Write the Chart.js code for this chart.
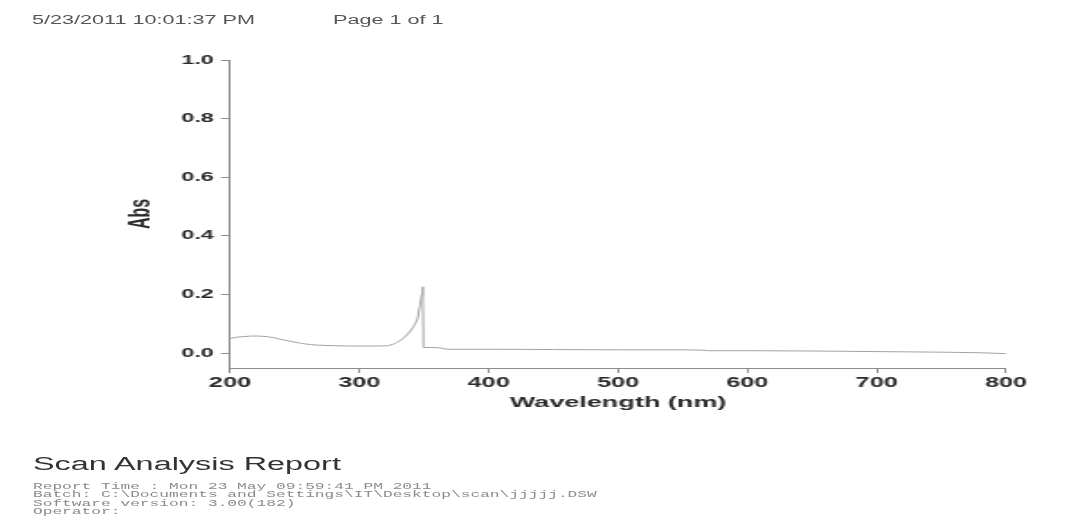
<!DOCTYPE html>
<html>
<head>
<meta charset="utf-8">
<script src="https://cdn.jsdelivr.net/npm/chart.js@4.4.1/dist/chart.umd.min.js"></script>
<style>
  html, body { margin: 0; padding: 0; background: #fff; overflow: hidden; }
  /* the scanned page is stretched sideways, so everything is drawn narrow and widened */
  #page { position: absolute; left: 0; top: 0; width: 597px; height: 517px; transform: scaleX(1.8); transform-origin: 0 0; }
  #chartBox { position: absolute; left: 0; top: 0; width: 597px; height: 517px; }
  .hdr { position: absolute; top: 13.5px; font: 12px/1 "Liberation Sans", Arial, sans-serif; color: #555; white-space: nowrap; }
  #title { position: absolute; left: 18.3px; top: 455px; font: 18px/1 "Liberation Sans", Arial, sans-serif; color: #333; white-space: nowrap; }
  #info { position: absolute; left: 18.3px; top: 482.7px; font: 9px/8.5px "Liberation Mono", "Courier New", monospace; color: #8a8a8a; white-space: pre; }
</style>
</head>
<body>
<div id="page">
  <div class="hdr" style="left:17.8px">5/23/2011 10:01:37 PM</div>
  <div class="hdr" style="left:185px">Page 1 of 1</div>
  <div id="chartBox"><canvas id="scanChart"></canvas></div>
  <div id="title">Scan Analysis Report</div>
  <div id="info">Report Time : Mon 23 May 09:59:41 PM 2011
Batch: C:\Documents and Settings\IT\Desktop\scan\jjjjj.DSW
Software version: 3.00(182)
Operator:</div>
</div>
<script>
// スキャンデータ（波長 nm / 吸光度）
const wavelengths = [200, 205, 210, 216, 222, 229, 235, 242, 248, 255,
    262, 268, 280, 293, 305, 315, 322, 326, 329, 332,
    336, 340, 343, 345, 347, 348.2, 349, 349.6, 355, 362,
    366, 370, 400, 450, 500, 550, 565, 570, 600, 650,
    700, 750, 780, 800];
const absValues = [0.050, 0.054, 0.056, 0.058, 0.058, 0.056, 0.051, 0.044, 0.039, 0.033,
    0.029, 0.027, 0.025, 0.024, 0.024, 0.024, 0.025, 0.030, 0.036, 0.044,
    0.058, 0.078, 0.098, 0.118, 0.165, 0.200, 0.226, 0.019, 0.019, 0.018,
    0.014, 0.013, 0.013, 0.012, 0.011, 0.011, 0.010, 0.008, 0.008, 0.007,
    0.005, 0.003, 0.001, -0.002];

const xTicks = [200, 300, 400, 500, 600, 700, 800];
const yTicks = [0.0, 0.2, 0.4, 0.6, 0.8, 1.0];

const axisColor = "#8c8c8c";
const labelColor = "#2b2b2b";

const ctx = document.getElementById("scanChart").getContext("2d");

new Chart(ctx, {
    type: "line",
    data: {
        datasets: [{
            label: "Abs",
            data: wavelengths.map((w, i) => ({ x: w, y: absValues[i] })),
            borderColor: "#a3a3a3",
            borderWidth: 1,
            pointRadius: 0,
            tension: 0,
            fill: false,
        }],
    },
    options: {
        responsive: true,
        maintainAspectRatio: false,
        animation: false,
        layout: { padding: { left: 60, right: 38.1, top: 60, bottom: 89 } },
        plugins: { legend: { display: false }, tooltip: { enabled: false } },
        scales: {
            x: {
                type: "linear",
                min: 200,
                max: 800,
                afterFit: (scale) => { scale.height = 60; },
                afterBuildTicks: (scale) => { scale.ticks = xTicks.map((v) => ({ value: v })); },
                border: { color: axisColor, width: 1 },
                grid: { drawOnChartArea: false, drawTicks: true, tickLength: 5, color: axisColor },
                ticks: {
                    padding: 2,
                    color: labelColor,
                    maxRotation: 0,
                    font: { family: "'Liberation Sans', Arial, sans-serif", size: 14, weight: "bold" },
                },
                title: {
                    display: true,
                    text: "Wavelength (nm)",
                    color: labelColor,
                    padding: { top: 0, bottom: 16 },
                    font: { family: "'Liberation Sans', Arial, sans-serif", size: 15, weight: "bold", lineHeight: 1.2 },
                },
            },
            y: {
                min: -0.051,
                max: 1.0,
                afterFit: (scale) => { scale.width = 67.8; },
                afterBuildTicks: (scale) => { scale.ticks = yTicks.map((v) => ({ value: v })); },
                border: { color: axisColor, width: 1 },
                grid: { drawOnChartArea: false, drawTicks: true, tickLength: 5, color: axisColor },
                ticks: {
                    padding: 4,
                    color: labelColor,
                    callback: (value) => value.toFixed(1),
                    font: { family: "'Liberation Sans', Arial, sans-serif", size: 13, weight: "bold" },
                },
                title: {
                    display: true,
                    text: "Abs",
                    color: "#2b2b2b",
                    padding: { top: 9, bottom: 0 },
                    font: { family: "'Liberation Sans Narrow', 'Liberation Sans', Arial, sans-serif", size: 16, weight: "bold", lineHeight: 1.2 },
                },
            },
        },
    },
});
</script>
</body>
</html>
